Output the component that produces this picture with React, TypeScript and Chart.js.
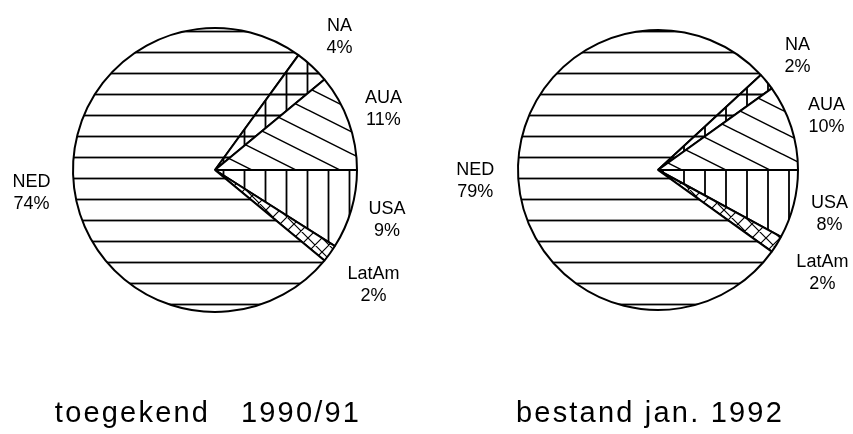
import React, { useEffect, useRef } from "react";
import { Chart, registerables } from "chart.js";

Chart.register(...registerables);

// ---- data ----
const categories = ["USA", "LatAm", "NED", "NA", "AUA"];
const leftValues = [9, 2, 74, 4, 11];
const rightValues = [8, 2, 79, 2, 10];
const leftTitle = "toegekend   1990/91";
const rightTitle = "bestand jan. 1992";

// ---- styles (not data) ----
const patternKinds = ["vertical", "cross45", "horizontal", "grid", "diagonal"];
const labelGaps = [37, 54, 43, 40, 37];
const FONT = "'Liberation Sans', Arial, Helvetica, sans-serif";

function makePattern(ctx: CanvasRenderingContext2D, kind: string, offX: number, offY: number) {
  const c = document.createElement("canvas");
  let w = 21, h = 21;
  if (kind === "diagonal") { w = 44; h = 22; }
  if (kind === "cross45") { w = 14; h = 14; }
  c.width = w; c.height = h;
  const g = c.getContext("2d")!;
  g.fillStyle = "#fff";
  g.fillRect(0, 0, w, h);
  g.strokeStyle = "#000";
  g.lineWidth = 1.8;
  g.beginPath();
  if (kind === "horizontal" || kind === "grid") { g.moveTo(0, offY); g.lineTo(w, offY); }
  if (kind === "vertical" || kind === "grid") { g.moveTo(offX, 0); g.lineTo(offX, h); }
  if (kind === "diagonal") {
    g.lineWidth = 1.5;
    for (let k = -1; k <= 1; k++) { g.moveTo(-4, -2 + k * h); g.lineTo(w + 4, h + 2 + k * h); }
  }
  if (kind === "cross45") {
    g.lineWidth = 1.2;
    for (let k = -1; k <= 1; k++) {
      g.moveTo(k * w, 0); g.lineTo(k * w + w, h);
      g.moveTo(k * w, h); g.lineTo(k * w + w, 0);
    }
  }
  g.stroke();
  return ctx.createPattern(c, "repeat")!;
}

type PieProps = {
  values: number[];
  title: string;
  left: number;
  width: number;
  padLeft: number;
  padRight: number;
  radius: number;
  titleX: number;
  offX: number;
  offY: number;
};

function PieChart(p: PieProps) {
  const ref = useRef<HTMLCanvasElement>(null);
  useEffect(() => {
    const canvas = ref.current!;
    const ctx = canvas.getContext("2d")!;
    const bgs = patternKinds.map((k) => makePattern(ctx, k, p.offX, p.offY));
    const labelPlugin = {
      id: "labels",
      afterDraw(chart: any) {
        const c = chart.ctx as CanvasRenderingContext2D;
        const meta = chart.getDatasetMeta(0);
        c.save();
        c.fillStyle = "#000";
        c.textAlign = "center";
        c.textBaseline = "middle";
        c.font = `18px ${FONT}`;
        meta.data.forEach((arc: any, i: number) => {
          const { x, y, startAngle, endAngle, outerRadius } = arc.getProps(
            ["x", "y", "startAngle", "endAngle", "outerRadius"], true);
          const mid = (startAngle + endAngle) / 2;
          const r = outerRadius + labelGaps[i];
          const lx = x + Math.cos(mid) * r;
          const ly = y + Math.sin(mid) * r;
          c.fillText(categories[i], lx, ly - 11);
          c.fillText(`${p.values[i]}%`, lx, ly + 11);
        });
        c.font = `29px ${FONT}`;
        (c as any).letterSpacing = "2.2px";
        c.textBaseline = "alphabetic";
        c.fillText(p.title, p.titleX, 422);
        c.restore();
      },
    };
    const chart = new Chart(canvas, {
      type: "pie",
      data: {
        labels: categories,
        datasets: [{
          data: p.values,
          backgroundColor: bgs as any,
          borderColor: "#000",
          borderWidth: 2,
          hoverOffset: 0,
          offset: 0,
        }],
      },
      options: {
        responsive: false,
        maintainAspectRatio: false,
        animation: false,
        rotation: 90,
        radius: p.radius,
        layout: { padding: { left: p.padLeft, right: p.padRight, top: 0, bottom: 94 } },
        plugins: { legend: { display: false }, tooltip: { enabled: false } },
        events: [],
      } as any,
      plugins: [labelPlugin],
    });
    return () => chart.destroy();
  }, []);
  return (
    <canvas
      ref={ref}
      width={p.width}
      height={434}
      style={{ position: "absolute", left: p.left, top: 0, width: p.width, height: 434 }}
    />
  );
}

export default function App() {
  return (
    <div style={{ position: "absolute", left: 0, top: 0, width: 853, height: 434, background: "#fff", overflow: "hidden" }}>
      <PieChart values={leftValues} title={leftTitle} left={0} width={430}
        padLeft={0} padRight={0} radius={142} titleX={208} offX={13.5} offY={10.5} />
      <PieChart values={rightValues} title={rightTitle} left={430} width={423}
        padLeft={33} padRight={0} radius={140} titleX={220} offX={2} offY={10.5} />
    </div>
  );
}
